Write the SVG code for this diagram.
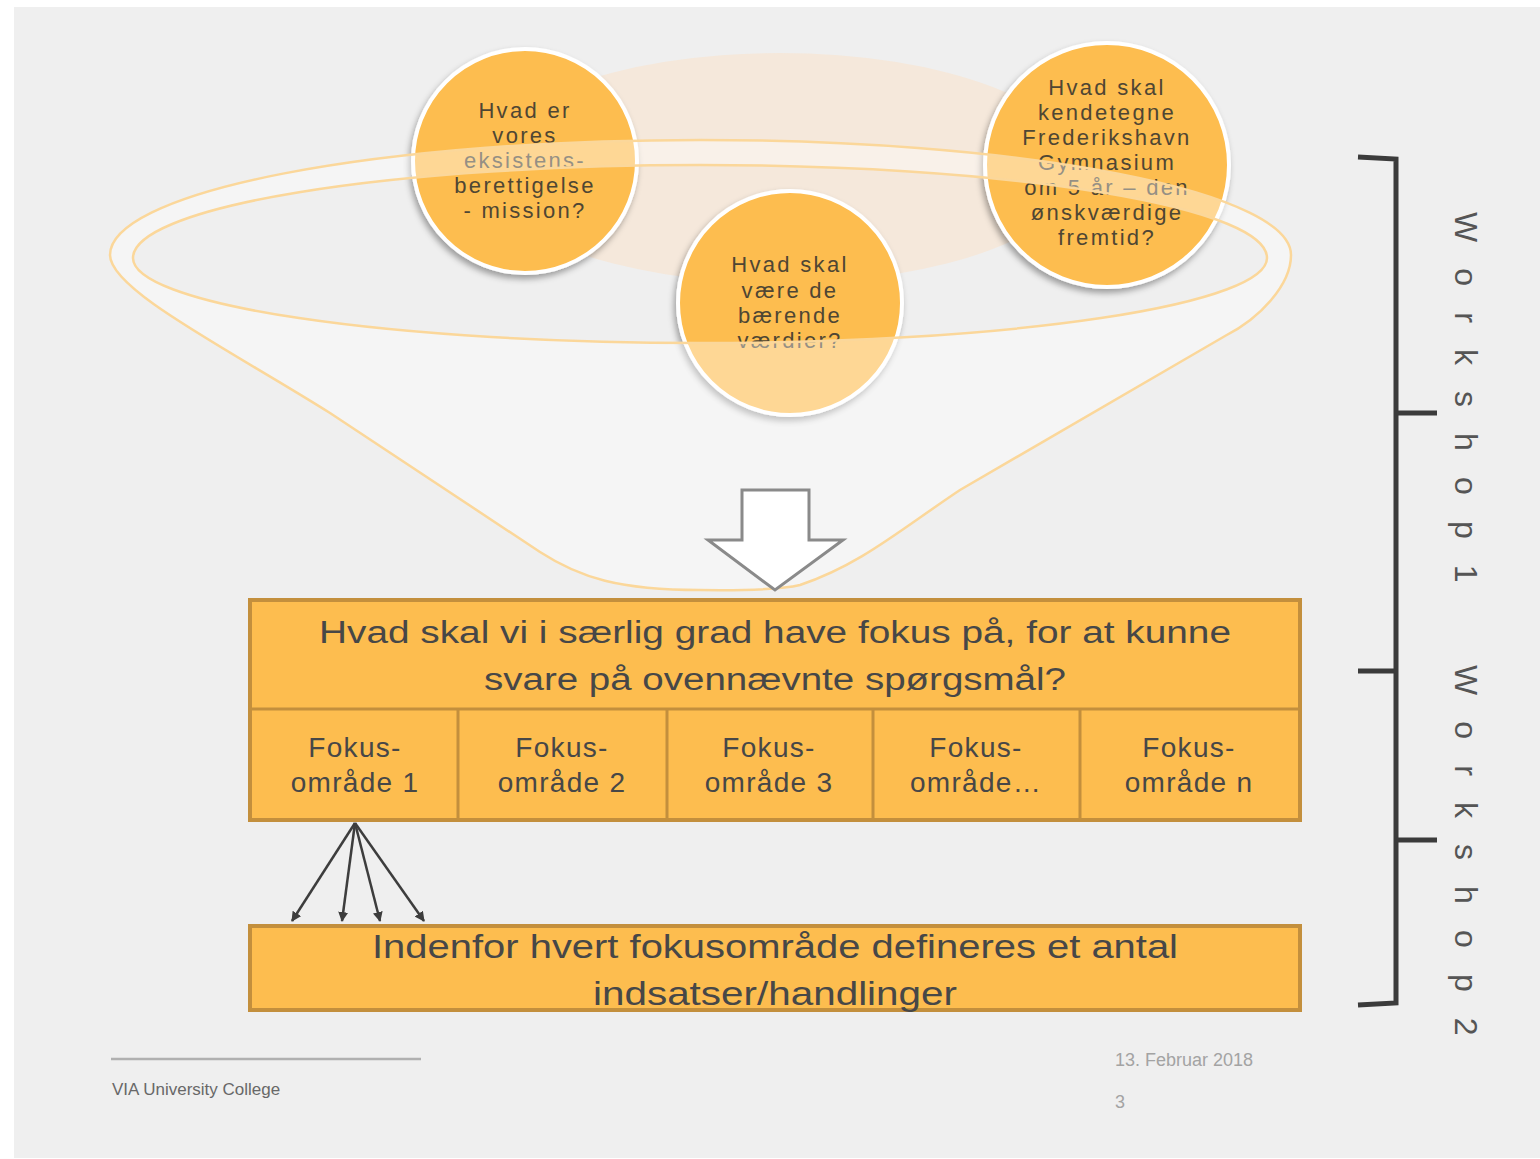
<svg xmlns="http://www.w3.org/2000/svg" width="1540" height="1159" viewBox="0 0 1540 1159">
<defs>
<style>
.ct{font-family:"Liberation Sans",Arial,sans-serif;font-size:22px;fill:#4f4633;text-anchor:middle;letter-spacing:2.3px}
.circ{fill:#fdbd4f;stroke:#ffffff;stroke-width:4}
.box{fill:#fdbd4f;stroke:#c38f3d;stroke-width:4}
.div{stroke:#c38f3d;stroke-width:3}
.bt{font-family:"Liberation Sans",Arial,sans-serif;font-size:31px;fill:#474747;text-anchor:middle}
.cell{font-family:"Liberation Sans",Arial,sans-serif;font-size:28px;fill:#474747;text-anchor:middle;letter-spacing:1.3px}
.funl{fill:none;stroke:#fbd79a;stroke-width:2.5}
.conn{stroke:#3d3d3d;stroke-width:2.5;fill:none}
.brace{stroke:#3b3b3b;stroke-width:5;fill:none}
.vt{font-family:"Liberation Sans",Arial,sans-serif;font-size:32px;fill:#555555;letter-spacing:8.6px}
</style>
<filter id="sh" x="-20%" y="-20%" width="140%" height="140%">
<feDropShadow dx="-2" dy="4" stdDeviation="3" flood-color="#000" flood-opacity="0.35"/>
</filter>
<marker id="ah" viewBox="0 0 10 10" refX="9" refY="5" markerWidth="4" markerHeight="4" orient="auto" markerUnits="strokeWidth">
<path d="M0,0 L10,5 L0,10 Z" fill="#3d3d3d"/>
</marker>
</defs>
<rect x="0" y="0" width="1540" height="1159" fill="#ffffff"/>
<rect x="14" y="7" width="1526" height="1151" fill="#efefef"/>
<ellipse cx="780" cy="168" rx="300" ry="115" fill="#f5e8db"/>
<g id="circle-mission">
<circle cx="525" cy="161" r="112" class="circ" filter="url(#sh)"/>
<text class="ct"><tspan x="525" y="118">Hvad er</tspan><tspan x="525" y="143">vores</tspan><tspan x="525" y="168">eksistens-</tspan><tspan x="525" y="193">berettigelse</tspan><tspan x="525" y="218">- mission?</tspan></text>
</g>
<g id="circle-vision">
<circle cx="1107" cy="165" r="122" class="circ" filter="url(#sh)"/>
<text class="ct"><tspan x="1107" y="95">Hvad skal</tspan><tspan x="1107" y="120">kendetegne</tspan><tspan x="1107" y="145">Frederikshavn</tspan><tspan x="1107" y="170">Gymnasium</tspan><tspan x="1107" y="195">om 5 år – den</tspan><tspan x="1107" y="220">ønskværdige</tspan><tspan x="1107" y="245">fremtid?</tspan></text>
</g>
<g id="circle-values">
<circle cx="790" cy="303" r="112" class="circ" filter="url(#sh)"/>
<text class="ct"><tspan x="790" y="272">Hvad skal</tspan><tspan x="790" y="298">være de</tspan><tspan x="790" y="323">bærende</tspan><tspan x="790" y="348">værdier?</tspan></text>
</g>
<g id="funnel">
<path d="M110,255 A590,115 0 0 1 1291,255 C1291,285 1260,318 1225,336 L960,490 C900,530 860,565 800,585 Q775,591 700,590 C620,590 580,578 540,552 L330,413 C230,350 110,290 110,255 Z M133,258 A567,93 0 0 1 1267,258 A567,85 0 0 1 133,258 Z" fill="#ffffff" fill-opacity="0.4" fill-rule="evenodd" stroke="none"/>
<path class="funl" d="M110,255 A590,115 0 0 1 1291,255 C1291,285 1260,318 1225,336 L960,490 C900,530 860,565 800,585 Q775,591 700,590 C620,590 580,578 540,552 L330,413 C230,350 110,290 110,255 Z"/>
<path class="funl" d="M133,258 A567,93 0 0 1 1267,258 A567,85 0 0 1 133,258 Z"/>
</g>
<g id="big-arrow">
<polygon points="742,490 809,490 809,540 843,540 775,590 708,540 742,540" fill="#ffffff" stroke="#8a8a8a" stroke-width="3"/>
</g>
<g id="focus-box">
<rect x="250" y="600" width="1050" height="220" class="box"/>
<line x1="250" y1="709" x2="1300" y2="709" class="div" stroke-width="4"/>
<text class="bt" x="775" y="643" textLength="912" lengthAdjust="spacingAndGlyphs">Hvad skal vi i særlig grad have fokus på, for at kunne</text>
<text class="bt" x="775" y="690" textLength="582" lengthAdjust="spacingAndGlyphs">svare på ovennævnte spørgsmål?</text>
</g>
<g id="focus-1">
<text class="cell"><tspan x="355" y="757">Fokus-</tspan><tspan x="355" y="792">område 1</tspan></text>
</g>
<g id="focus-2">
<line x1="458" y1="709" x2="458" y2="820" class="div"/>
<text class="cell"><tspan x="562" y="757">Fokus-</tspan><tspan x="562" y="792">område 2</tspan></text>
</g>
<g id="focus-3">
<line x1="667" y1="709" x2="667" y2="820" class="div"/>
<text class="cell"><tspan x="769" y="757">Fokus-</tspan><tspan x="769" y="792">område 3</tspan></text>
</g>
<g id="focus-4">
<line x1="873" y1="709" x2="873" y2="820" class="div"/>
<text class="cell"><tspan x="976" y="757">Fokus-</tspan><tspan x="976" y="792">område…</tspan></text>
</g>
<g id="focus-n">
<line x1="1080" y1="709" x2="1080" y2="820" class="div"/>
<text class="cell"><tspan x="1189" y="757">Fokus-</tspan><tspan x="1189" y="792">område n</tspan></text>
</g>
<g id="actions-box">
<rect x="250" y="926" width="1050" height="84" class="box"/>
<text class="bt" font-size="33" x="775" y="958" textLength="806" lengthAdjust="spacingAndGlyphs" style="font-size:33px">Indenfor hvert fokusområde defineres et antal</text>
<text class="bt" x="775" y="1005" textLength="364" lengthAdjust="spacingAndGlyphs" style="font-size:33px">indsatser/handlinger</text>
</g>
<g id="connectors">
<line x1="355" y1="823" x2="292" y2="921" class="conn" marker-end="url(#ah)"/>
<line x1="355" y1="823" x2="342" y2="921" class="conn" marker-end="url(#ah)"/>
<line x1="355" y1="823" x2="380" y2="921" class="conn" marker-end="url(#ah)"/>
<line x1="355" y1="823" x2="424" y2="921" class="conn" marker-end="url(#ah)"/>
</g>
<g id="brace">
<path class="brace" d="M1358,157 L1396,159 L1396,1003 L1358,1005"/>
<path class="brace" d="M1396,413 L1437,413 M1358,671 L1396,671 M1396,840 L1437,840"/>
</g>
<g id="label-workshop1">
<text class="vt" transform="translate(1455,212) rotate(90)" x="0" y="0">W o r k s h o p 1</text>
</g>
<g id="label-workshop2">
<text class="vt" transform="translate(1455,665) rotate(90)" x="0" y="0">W o r k s h o p 2</text>
</g>
<g id="footer">
<line x1="111" y1="1059" x2="421" y2="1059" stroke="#b0b0b0" stroke-width="2.5"/>
<text x="112" y="1095" font-family="Liberation Sans, Arial, sans-serif" font-size="17" fill="#686868">VIA University College</text>
<text x="1115" y="1066" font-family="Liberation Sans, Arial, sans-serif" font-size="18" fill="#a3a3a3">13. Februar 2018</text>
<text x="1115" y="1108" font-family="Liberation Sans, Arial, sans-serif" font-size="18" fill="#a3a3a3">3</text>
</g>
</svg>
